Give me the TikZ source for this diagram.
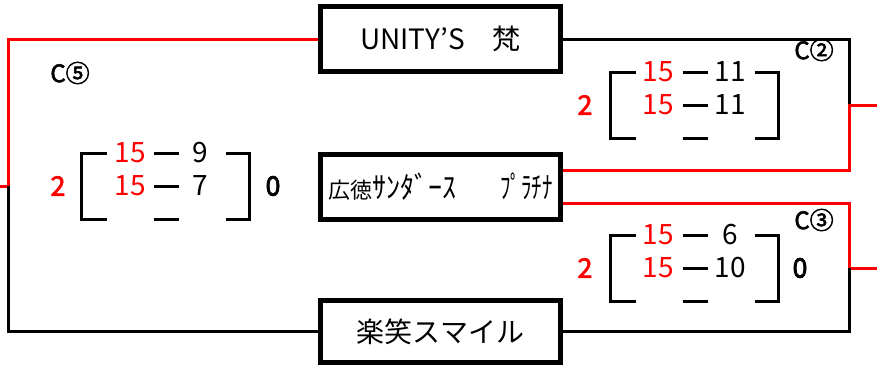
\documentclass[tikz,border=0pt]{standalone}
\usepackage{fontspec}
\usepackage{graphicx}
\setmainfont{Noto Sans CJK JP}
\newfontfamily\semib[FakeBold=2.5]{Noto Sans CJK JP}
\newcommand\brk[2]{%
  \draw[bl] (#1+25,#2) -- (#1,#2) -- (#1,#2+66) -- (#1+25,#2+66);
  \draw[bl] (#1+72,#2) -- (#1+97,#2);
  \draw[bl] (#1+72,#2+33) -- (#1+97,#2+33);
  \draw[bl] (#1+72,#2+66) -- (#1+97,#2+66);
  \draw[bl] (#1+144,#2) -- (#1+168,#2) -- (#1+168,#2+66) -- (#1+144,#2+66);
}
\begin{document}
\begin{tikzpicture}[x=1pt,y=-1pt,
  teambox/.style={draw, line width=5pt, inner sep=0pt, minimum width=240pt, minimum height=65pt, font=\fontsize{28}{30}\selectfont},
  wl/.style={line width=3pt, red},
  bl/.style={line width=3pt, black},
  sc/.style={inner sep=0pt, font=\fontsize{28}{28}\selectfont},
  win/.style={sc, text=red},
  big/.style={inner sep=0pt, font=\fontsize{27}{27}\semib},
  lab/.style={inner sep=0pt, font=\fontsize{24}{24}\semib}]
\useasboundingbox (0,0) rectangle (877,367);

% team boxes
\node[teambox] (t1) at (440.5,39) {UNITY’S　梵};
\node[teambox] (t2) at (440.5,187) {{\fontsize{22}{22}\selectfont 広徳}{\fontsize{20}{20}\selectfont\scalebox{1.4}[1.5]{ｻﾝﾀﾞｰｽ}\hspace{44pt}\scalebox{1.05}[1.5]{ﾌﾟﾗﾁﾅ}}};
\node[teambox, minimum height=62pt] (t3) at (440.5,331.5) {楽笑スマイル};

% join coordinates
\coordinate (jl) at (8,186);
\coordinate (el) at (0,186);
\coordinate (jr1) at (849,105);
\coordinate (er1) at (877,105);
\coordinate (a1) at (849,170);
\coordinate (jr2) at (849,268);
\coordinate (er2) at (877,268);
\coordinate (a2) at (849,203);

% connectors
\draw[wl] (t1.west) -| (jl) -- (el);
\draw[bl] (jl) |- (t3.west);
\draw[bl] (t1.east) -| (jr1);
\draw[wl] (t2.east |- a1) -- (a1) -- (jr1) -- (er1);
\draw[wl] (t2.east |- a2) -- (a2) -- (jr2) -- (er2);
\draw[bl] (t3.east) -| (jr2);

% brackets
\brk{81.5}{153}
\brk{610.5}{72}
\brk{610.5}{235}

% C5 scores
\node[lab] (c5) at (70,73) {C⑤};
\node[big, text=red] (l5) at (58,186) {2};
\node[big] (r5) at (273,186) {0};
\node[win] (s5a) at (130,153) {15};
\node[sc] (s5b) at (200,153) {9};
\node[win] (s5c) at (130,186) {15};
\node[sc] (s5d) at (200,186) {7};

% C2 scores
\node[lab] (c2) at (814,50) {C②};
\node[big, text=red] (l2) at (585,105) {2};
\node[win] (s2a) at (658,72) {15};
\node[sc] (s2b) at (730,72) {11};
\node[win] (s2c) at (658,105) {15};
\node[sc] (s2d) at (730,105) {11};

% C3 scores
\node[lab] (c3) at (814,220) {C③};
\node[big, text=red] (l3) at (585,268) {2};
\node[big] (r3) at (800,268) {0};
\node[win] (s3a) at (658,235) {15};
\node[sc] (s3b) at (730,235) {6};
\node[win] (s3c) at (658,268) {15};
\node[sc] (s3d) at (730,268) {10};
\end{tikzpicture}
\end{document}
